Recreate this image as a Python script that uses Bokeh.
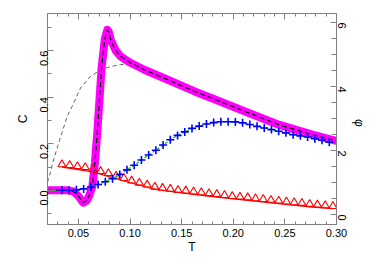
import math
from bokeh.plotting import figure
from bokeh.models import Range1d, LinearAxis, FixedTicker, PrintfTickFormatter, CustomJSTickFormatter
from bokeh.embed import file_html
from bokeh.resources import INLINE

# ---- data ----
# specific heat C(T): thick magenta curve (and black dashed copy)
c_T = [0.020, 0.030, 0.040, 0.045, 0.050, 0.0546, 0.058, 0.060, 0.0634, 0.066, 0.0682,
       0.0705, 0.0725, 0.0755, 0.078, 0.0795, 0.0813, 0.0861, 0.091, 0.1008, 0.1138,
       0.1366, 0.1626, 0.1854, 0.2114, 0.244, 0.2766, 0.300]
c_C = [0.000, 0.000, 0.000, -0.005, -0.025, -0.053, -0.045, -0.027, 0.016, 0.12, 0.247,
       0.40, 0.53, 0.65, 0.690, 0.680, 0.647, 0.600, 0.575, 0.547, 0.518,
       0.475, 0.425, 0.385, 0.339, 0.282, 0.239, 0.212]

# thin gray dashed curve
g_T = [0.020, 0.0227, 0.0259, 0.0308, 0.039, 0.0438, 0.052, 0.0617, 0.0715, 0.0813,
       0.091, 0.1008, 0.1138, 0.1366, 0.1626, 0.1854, 0.2114, 0.244, 0.2766, 0.300]
g_C = [0.035, 0.075, 0.131, 0.203, 0.317, 0.360, 0.440, 0.490, 0.518, 0.532,
       0.540, 0.545, 0.518, 0.475, 0.425, 0.385, 0.339, 0.282, 0.239, 0.212]

# blue plus markers
b_T = [0.034, 0.041, 0.048, 0.055, 0.062, 0.069, 0.076, 0.083, 0.090, 0.097,
       0.104, 0.111, 0.118, 0.125, 0.132, 0.139, 0.146, 0.153, 0.160, 0.167,
       0.174, 0.181, 0.188, 0.195, 0.202, 0.209, 0.216, 0.223, 0.230, 0.237,
       0.244, 0.251, 0.258, 0.265, 0.272, 0.279, 0.286, 0.293]
b_C = [0.000, 0.000, 0.002, 0.006, 0.014, 0.025, 0.037, 0.050, 0.068, 0.088,
       0.108, 0.130, 0.152, 0.172, 0.195, 0.217, 0.236, 0.251, 0.266, 0.276,
       0.285, 0.291, 0.295, 0.295, 0.294, 0.290, 0.283, 0.275, 0.268, 0.261,
       0.254, 0.247, 0.239, 0.234, 0.229, 0.222, 0.215, 0.207]

# green dashed line under the plus markers
gr_T = [0.020, 0.030] + b_T
gr_C = [0.000, 0.000] + b_C

# red triangles
r_T = [0.0340, 0.0415, 0.0490, 0.0565, 0.0640, 0.0715, 0.0790, 0.0865, 0.0940, 0.1015,
       0.1090, 0.1165, 0.1240, 0.1315, 0.1390, 0.1465, 0.1540, 0.1615, 0.1690, 0.1765,
       0.1840, 0.1915, 0.1990, 0.2065, 0.2140, 0.2215, 0.2290, 0.2365, 0.2440, 0.2515,
       0.2590, 0.2665, 0.2740, 0.2815, 0.2890, 0.2965]
r_C = [0.111, 0.108, 0.103, 0.099, 0.090, 0.082, 0.073, 0.062, 0.052, 0.041,
       0.032, 0.024, 0.015, 0.010, 0.006, 0.001, -0.002, -0.006, -0.009, -0.013,
       -0.017, -0.021, -0.025, -0.028, -0.031, -0.035, -0.038, -0.042, -0.045, -0.049,
       -0.052, -0.055, -0.059, -0.062, -0.065, -0.068]

# red solid line
rl_T = [0.034, 0.064, 0.094, 0.124, 0.154, 0.184, 0.214, 0.244, 0.274, 0.2965]
rl_C = [0.100, 0.079, 0.040, 0.004, -0.013, -0.029, -0.043, -0.057, -0.071, -0.079]

# ticks
x_major = [0.05, 0.10, 0.15, 0.20, 0.25, 0.30]
x_minor = [0.02, 0.03, 0.04, 0.06, 0.07, 0.08, 0.09, 0.11, 0.12, 0.13, 0.14, 0.16, 0.17,
           0.18, 0.19, 0.21, 0.22, 0.23, 0.24, 0.26, 0.27, 0.28, 0.29]
c_major = [0.0, 0.2, 0.4, 0.6]
c_minor = [-0.1, 0.1, 0.3, 0.5, 0.7]
phi_major = [0, 2, 4, 6]
phi_minor = [0.5, 1, 1.5, 2.5, 3, 3.5, 4.5, 5, 5.5]

FONT = "Liberation Sans"
GRAY = "#808080"

p = figure(width=382, height=268, x_range=Range1d(0.02, 0.30), y_range=Range1d(-0.147, 0.760),
           output_backend="svg", toolbar_location=None,
           min_border_left=47, min_border_right=46, min_border_top=13, min_border_bottom=44,
           x_axis_label="T", y_axis_label="C")
p.extra_y_ranges = {"phi": Range1d(-0.31, 6.28)}
p.grid.visible = False
p.outline_line_color = GRAY
p.background_fill_color = "white"
p.border_fill_color = "white"


def style(ax, tin, tmin):
    ax.axis_line_color = GRAY
    ax.major_tick_line_color = GRAY
    ax.minor_tick_line_color = GRAY
    ax.major_tick_in = tin
    ax.major_tick_out = 0
    ax.minor_tick_in = tmin
    ax.minor_tick_out = 0
    ax.major_label_text_font = FONT
    ax.major_label_text_font_size = "11px"
    ax.major_label_text_color = "black"
    ax.axis_label_text_font = FONT
    ax.axis_label_text_font_size = "12px"
    ax.axis_label_text_font_style = "normal"
    ax.axis_label_text_color = "black"


xa = p.xaxis[0]
xa.ticker = FixedTicker(ticks=x_major, minor_ticks=x_minor)
xa.formatter = PrintfTickFormatter(format="%.2f")
style(xa, 6, 3)
xa.major_label_standoff = 4
xa.axis_label_standoff = 0

ya = p.yaxis[0]
ya.ticker = FixedTicker(ticks=c_major, minor_ticks=c_minor)
ya.formatter = PrintfTickFormatter(format="%.1f")
style(ya, 6, 4)
ya.major_label_orientation = math.pi / 2
ya.major_label_standoff = 3
ya.axis_label_standoff = 4

top = LinearAxis(ticker=FixedTicker(ticks=x_major, minor_ticks=x_minor),
                 formatter=CustomJSTickFormatter(code="return ''"))
style(top, 6, 3)
top.major_label_standoff = 0
p.add_layout(top, "above")

ra = LinearAxis(y_range_name="phi", axis_label="φ",
                ticker=FixedTicker(ticks=phi_major, minor_ticks=phi_minor),
                formatter=PrintfTickFormatter(format="%d"))
style(ra, 6, 5)
ra.major_label_orientation = -math.pi / 2
ra.major_label_standoff = 5
ra.axis_label_standoff = 6
if "axis_label_orientation" in LinearAxis.properties():
    ra.axis_label_orientation = -math.pi / 2
p.add_layout(ra, "right")

# ---- glyphs ----
p.line(g_T, g_C, line_color="#505050", line_width=0.9, line_dash="4 3")
p.line(c_T, c_C, line_color="#FF00FF", line_width=8, line_cap="round", line_join="round")
p.line(c_T, c_C, line_color="black", line_width=1.1, line_dash="5 3")
p.line(rl_T, rl_C, line_color="#FF0000", line_width=1.2)
p.scatter(r_T, r_C, marker="triangle", size=8, fill_color=None, line_color="#FF0000", line_width=1.1)
p.line(gr_T, gr_C, line_color="#00C800", line_width=1.2, line_dash="3 2")
p.scatter(b_T, b_C, marker="cross", size=8, line_color="#0000FF", line_width=1.6)

open("out.html", "w").write(file_html(p, INLINE))
